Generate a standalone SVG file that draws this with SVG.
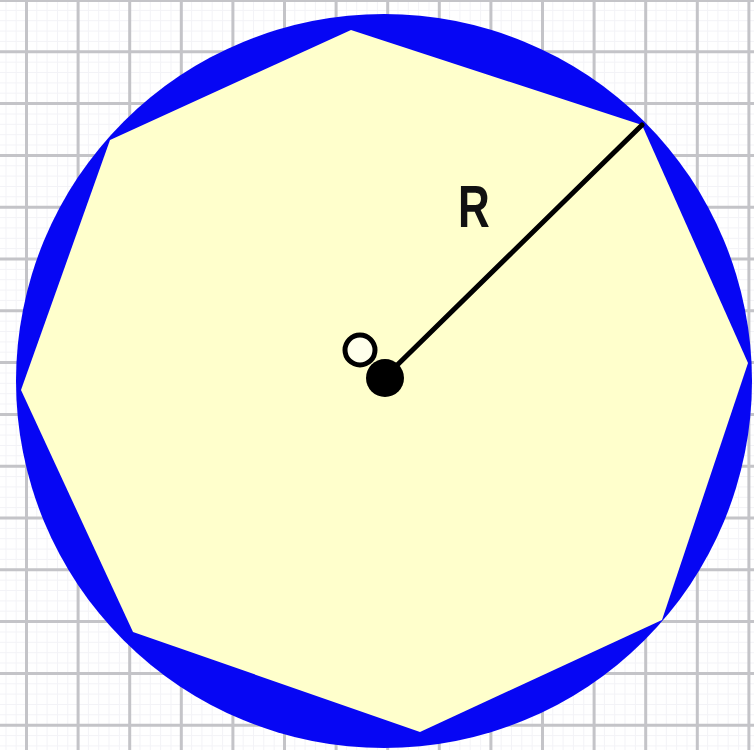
<svg xmlns="http://www.w3.org/2000/svg" width="754" height="750" viewBox="0 0 754 750">
  <style>
    .major { stroke: #c4c4c8; stroke-width: 3; fill: none; }
    .minor { stroke: #f3f3f7; stroke-width: 1; fill: none; }
    .rim { fill: #0606f4; }
    .face { fill: #ffffcc; }
    .radius { stroke: #000; stroke-width: 5; stroke-linecap: round; }
    .label { font-family: "Liberation Sans", Arial, sans-serif; font-weight: bold; font-size: 44px; fill: #111; }
  </style>
  <rect x="0" y="0" width="754" height="750" fill="#ffffff"/>
  <g id="grid">
    <path class="minor" d="M0 10.4H754M0 20.7H754M0 31.1H754M0 41.4H754M0 62.2H754M0 72.5H754M0 82.9H754M0 93.2H754M0 114H754M0 124.3H754M0 134.7H754M0 145H754M0 165.8H754M0 176.1H754M0 186.5H754M0 196.8H754M0 217.6H754M0 227.9H754M0 238.3H754M0 248.6H754M0 269.4H754M0 279.7H754M0 290.1H754M0 300.4H754M0 321.2H754M0 331.5H754M0 341.9H754M0 352.2H754M0 373H754M0 383.3H754M0 393.7H754M0 404H754M0 424.8H754M0 435.1H754M0 445.5H754M0 455.8H754M0 476.6H754M0 486.9H754M0 497.3H754M0 507.6H754M0 528.4H754M0 538.7H754M0 549.1H754M0 559.4H754M0 580.2H754M0 590.5H754M0 600.9H754M0 611.2H754M0 632H754M0 642.3H754M0 652.7H754M0 663H754M0 683.8H754M0 694.1H754M0 704.5H754M0 714.8H754M0 735.6H754M0 745.9H754
      M6 0V750M16.2 0V750M36.8 0V750M47.1 0V750M57.5 0V750M67.8 0V750M88.4 0V750M98.7 0V750M109 0V750M119.4 0V750M140 0V750M150.3 0V750M160.6 0V750M171 0V750M191.6 0V750M201.9 0V750M212.2 0V750M222.6 0V750M243.2 0V750M253.5 0V750M263.8 0V750M274.2 0V750M294.8 0V750M305.1 0V750M315.4 0V750M325.8 0V750M346.4 0V750M356.7 0V750M367 0V750M377.4 0V750M398 0V750M408.3 0V750M418.6 0V750M429 0V750M449.6 0V750M459.9 0V750M470.2 0V750M480.6 0V750M501.2 0V750M511.5 0V750M521.8 0V750M532.2 0V750M552.8 0V750M563.1 0V750M573.4 0V750M583.8 0V750M604.4 0V750M614.7 0V750M625 0V750M635.4 0V750M656 0V750M666.3 0V750M676.6 0V750M687 0V750M707.6 0V750M717.9 0V750M728.2 0V750M738.6 0V750"/>
    <path class="major" d="M0 0.5H754M0 51.8H754M0 103.6H754M0 155.4H754M0 207.2H754M0 259H754M0 310.8H754M0 362.6H754M0 414.4H754M0 466.2H754M0 518H754M0 569.8H754M0 621.6H754M0 673.4H754M0 725.2H754
      M26.5 0V750M78.1 0V750M129.7 0V750M181.3 0V750M232.9 0V750M284.5 0V750M336.1 0V750M387.7 0V750M439.3 0V750M490.9 0V750M542.5 0V750M594.1 0V750M645.7 0V750M697.3 0V750M748.9 0V750"/>
  </g>
  <g id="circle">
    <ellipse class="rim" cx="384" cy="381" rx="368" ry="367"/>
  </g>
  <g id="octagon">
    <polygon class="face" points="351,30 642,125 748,363 662,620 420,732 133,632 21,390 110,140"/>
  </g>
  <g id="connectors">
    <line class="radius" x1="385" y1="377" x2="642" y2="125"/>
  </g>
  <g id="center-open">
    <circle cx="360" cy="350" r="15" fill="#ffffff" fill-opacity="0.6" stroke="#000" stroke-width="5"/>
  </g>
  <g id="center-filled">
    <circle cx="385" cy="378" r="19" fill="#000"/>
  </g>
  <g id="label-R">
    <text class="label" transform="translate(458,227) scale(1,1.33)" x="0" y="0">R</text>
  </g>
</svg>
